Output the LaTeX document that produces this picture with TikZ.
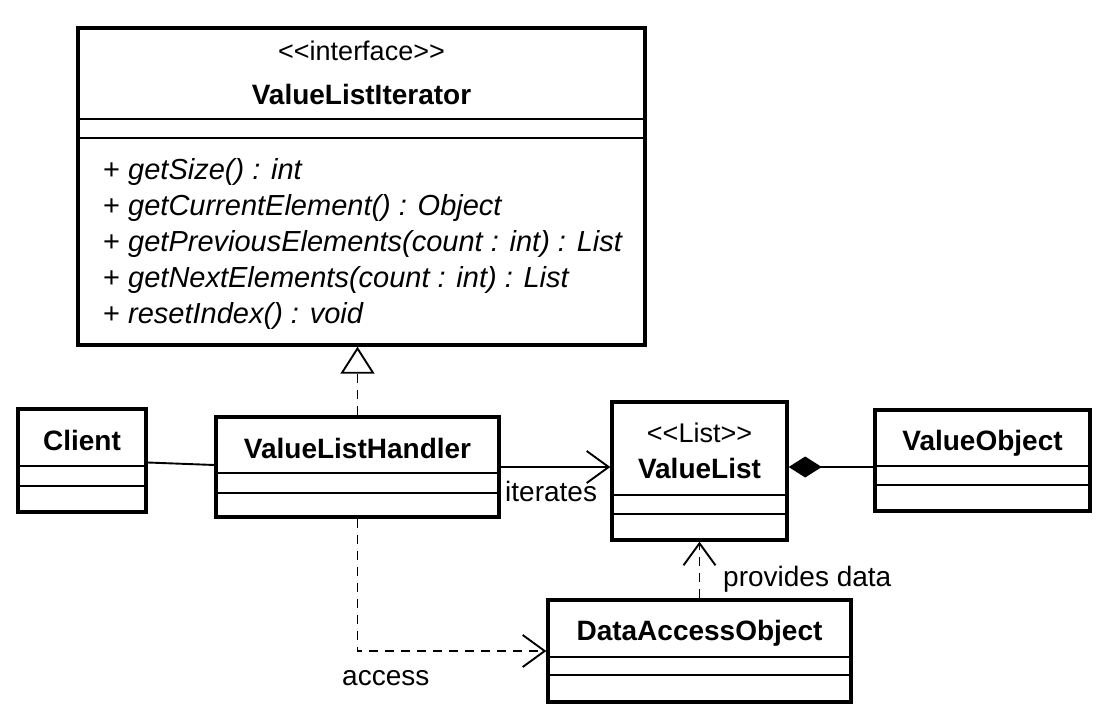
\documentclass[tikz,border=0pt]{standalone}
\usepackage{fontspec}
\setmainfont{Liberation Sans}
\usetikzlibrary{arrows.meta,calc}
\begin{document}
\begin{tikzpicture}[x=1pt,y=-1pt,
  classbox/.style={draw, rectangle, line width=3.4pt, inner sep=0pt},
  compart/.style={line width=2pt},
  cname/.style={font=\fontsize{28}{32}\selectfont\bfseries, inner sep=0pt, anchor=base},
  stereo/.style={font=\fontsize{27}{32}\selectfont, inner sep=0pt, anchor=base},
  meth/.style={font=\fontsize{29}{34}\selectfont, inner sep=0pt, anchor=base west},
  lbl/.style={font=\fontsize{28}{32}\selectfont, inner sep=0pt, anchor=base west},
  conn/.style={line width=1.9pt},
  dep/.style={conn, dash pattern=on 9pt off 7pt},
  realize/.style={dep, -{Triangle[open, length=27pt, width=34pt]}},
  navig/.style={-{Straight Barb[length=22pt, width=32pt]}},
  compos/.style={conn, -{Diamond[length=33pt, width=21pt]}}
]
\useasboundingbox[fill=white] (0,0) rectangle (1099,714);

% ---- class boxes ----
\node[classbox, minimum width=567pt, minimum height=317pt] (iface)   at (361.5,186.5) {};
\node[classbox, minimum width=128pt, minimum height=103pt] (client)  at (82,460.5) {};
\node[classbox, minimum width=283pt, minimum height=100pt] (handler) at (357.5,467) {};
\node[classbox, minimum width=175pt, minimum height=138pt] (vlist)   at (699.5,471) {};
\node[classbox, minimum width=215pt, minimum height=101pt] (vobj)    at (982.5,460.5) {};
\node[classbox, minimum width=303pt, minimum height=102pt] (dao)     at (699.5,651) {};

% ---- compartment lines ----
\foreach \y in {119,138} \draw[compart] (iface.west |- 0,\y) -- (iface.east |- 0,\y);
\foreach \y in {466,486} \draw[compart] (client.west |- 0,\y) -- (client.east |- 0,\y);
\foreach \y in {473,493} \draw[compart] (handler.west |- 0,\y) -- (handler.east |- 0,\y);
\foreach \y in {495,514} \draw[compart] (vlist.west |- 0,\y) -- (vlist.east |- 0,\y);
\foreach \y in {466,485} \draw[compart] (vobj.west |- 0,\y) -- (vobj.east |- 0,\y);
\foreach \y in {657,675} \draw[compart] (dao.west |- 0,\y) -- (dao.east |- 0,\y);

% ---- names ----
\node[stereo] (ifaceSt) at (361.5,61) {<\kern0pt<interface>\kern0pt>};
\node[cname]  (ifaceN)  at (361.5,105) {ValueListIterator};
\node[cname]  (clientN) at (82,450) {Client};
\node[cname]  (handlerN) at (357.5,458) {ValueListHandler};
\node[stereo] (vlistSt) at (699.5,442) {<\kern0pt<List>\kern0pt>};
\node[cname]  (vlistN)  at (699.5,478) {ValueList};
\node[cname]  (vobjN)   at (982.5,450) {ValueObject};
\node[cname]  (daoN)    at (699.5,640) {DataAccessObject};

% ---- operations ----
\node[meth] (op1) at (103,179) {+ \textit{getSize() : int}};
\node[meth] (op2) at (103,215) {+ \textit{getCurrentElement() : Object}};
\node[meth] (op3) at (103,251) {+ \textit{getPreviousElements(count : int) : List}};
\node[meth] (op4) at (103,287) {+ \textit{getNextElements(count : int) : List}};
\node[meth] (op5) at (103,323) {+ \textit{resetIndex() : void}};

% ---- relations ----
\draw[realize] (handler.north) -- (handler.north |- iface.south);
\coordinate (cl) at ([yshift=-2pt]client.east);
\coordinate (hl) at ([yshift=2pt]handler.west);
\draw[conn] (cl) -- (hl);
\draw[conn, navig] (handler.east) -- (handler.east -| vlist.west);
\coordinate (cmp) at ([yshift=4pt]vlist.east);
\draw[compos] (cmp -| vobj.west) -- (cmp);
\draw[dep, navig] (handler.south) |- (dao.west);
\draw[dep, navig] (dao.north) -- (vlist.south);

% ---- relation labels ----
\node[lbl] (itLbl)  at (505,501) {iterates};
\node[lbl] (pdLbl)  at (723,586) {provides data};
\node[lbl] (acLbl)  at (342,685) {access};
\end{tikzpicture}
\end{document}
